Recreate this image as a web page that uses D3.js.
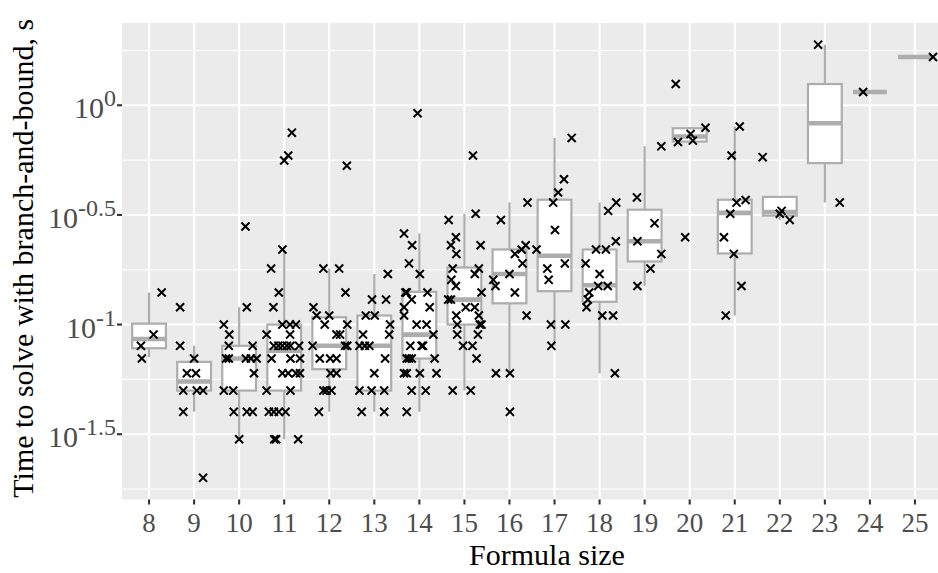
<!DOCTYPE html>
<html><head><meta charset="utf-8">
<script src="https://cdn.jsdelivr.net/npm/d3@7"></script>
<style>body{margin:0;background:#fff}svg{display:block}</style>
</head><body>
<svg id="chart" width="938" height="573"></svg>
<script>
// ---- data (times in seconds) ----
const formulaSizes = [8,9,10,11,12,13,14,15,16,17,18,19,20,21,22,23,24,25];
const boxQ1      = [0.078,0.050,0.050,0.050,0.0626,0.050,0.070,0.100,0.125,0.142,0.127,0.194,0.683,0.211,0.314,0.545,1.15,1.66];
const boxMedian  = [0.086,0.055,0.070,0.076,0.080,0.080,0.090,0.130,0.170,0.206,0.151,0.240,0.720,0.323,0.326,0.828,1.15,1.66];
const boxQ3      = [0.101,0.0676,0.080,0.100,0.108,0.110,0.141,0.182,0.220,0.371,0.220,0.334,0.786,0.371,0.382,1.25,1.15,1.66];
const whiskerLow = [0.071,0.040,0.030,0.030,0.040,0.040,0.040,0.050,0.060,0.080,0.060,0.150,0.680,0.110,0.300,0.360,1.15,1.66];
const whiskerHigh= [0.140,0.080,0.120,0.220,0.180,0.170,0.260,0.320,0.360,0.710,0.360,0.650,0.790,0.800,0.382,1.89,1.15,1.66];

// measured solve times per formula size (same order as formulaSizes)
const pointTimes = [
  [0.14,0.09,0.08,0.07],
  [0.12,0.08,0.07,0.06,0.06,0.05,0.05,0.05,0.04,0.02],
  [0.28,0.12,0.10,0.09,0.08,0.08,0.07,0.07,0.07,0.07,0.07,0.06,0.05,0.05,0.04,0.04,0.04,0.03],
  [0.75,0.59,0.56,0.22,0.18,0.14,0.12,0.09,0.10,0.10,0.10,0.09,0.08,0.08,0.08,0.08,0.08,0.08,0.07,0.07,0.07,0.06,0.06,0.06,0.06,0.05,0.05,0.04,0.04,0.04,0.04,0.03,0.03,0.03],
  [0.53,0.18,0.18,0.14,0.12,0.11,0.11,0.10,0.10,0.09,0.09,0.08,0.08,0.08,0.07,0.07,0.07,0.06,0.06,0.05,0.05,0.05,0.04],
  [0.17,0.13,0.13,0.11,0.11,0.10,0.09,0.09,0.08,0.08,0.08,0.07,0.06,0.05,0.05,0.05,0.04,0.04],
  [0.92,0.26,0.23,0.19,0.17,0.14,0.14,0.14,0.13,0.12,0.12,0.11,0.10,0.10,0.09,0.08,0.08,0.08,0.07,0.07,0.07,0.07,0.06,0.06,0.06,0.06,0.05,0.05,0.04],
  [0.59,0.32,0.30,0.25,0.23,0.23,0.21,0.18,0.18,0.17,0.16,0.15,0.14,0.13,0.13,0.12,0.12,0.11,0.11,0.10,0.10,0.10,0.09,0.09,0.08,0.08,0.07,0.05,0.05],
  [0.36,0.30,0.23,0.22,0.21,0.19,0.17,0.16,0.15,0.14,0.11,0.06,0.06,0.04],
  [0.71,0.46,0.40,0.36,0.27,0.22,0.19,0.18,0.16,0.10,0.10,0.08],
  [0.36,0.33,0.24,0.22,0.22,0.19,0.17,0.15,0.15,0.14,0.13,0.12,0.11,0.11,0.06],
  [0.65,0.38,0.29,0.24,0.21,0.18,0.15],
  [1.25,0.79,0.74,0.69,0.68,0.25],
  [0.80,0.59,0.37,0.36,0.32,0.25,0.21,0.15,0.11],
  [0.58,0.33,0.32,0.30],
  [1.89,0.36],
  [1.15],
  [1.66]
];
// horizontal jitter of each point, in formula-size units
const pointJitter = [
  [0.28,0.10,-0.18,-0.16],
  [-0.31,-0.31,0,-0.16,0.04,-0.24,0.06,0.20,-0.24,0.20],
  [0.14,0.17,-0.34,-0.22,-0.23,0.30,-0.29,-0.23,0.15,0.26,0.39,0.33,-0.34,-0.13,-0.12,0.17,0.30,0],
  [0.17,0.09,0,-0.04,-0.29,-0.12,-0.24,-0.39,-0.04,0.13,0.26,0.13,-0.23,-0.13,-0.04,0.06,0.14,0.33,-0.28,0.14,0.35,-0.04,0.09,0.26,0.35,-0.39,0.14,-0.34,-0.23,-0.12,0.03,-0.22,-0.18,0.31],
  [0.39,-0.13,0.22,0.36,-0.35,-0.28,0,0.40,-0.10,0.16,0.24,-0.37,0.35,0.40,-0.21,0.02,0.16,0.03,0.16,-0.13,-0.06,0.05,-0.23],
  [0.30,-0.05,0.26,-0.19,0.01,0.35,-0.25,0.33,-0.33,-0.21,-0.11,0.24,0,-0.33,-0.06,0.22,-0.28,0.22],
  [-0.04,-0.34,-0.16,-0.23,0.01,-0.31,-0.28,0.18,-0.17,0.23,-0.34,-0.34,-0.06,0.16,0.31,-0.20,0.05,0.08,-0.28,-0.23,-0.17,0.34,-0.34,-0.28,0.01,0.38,-0.17,0.14,-0.28],
  [0.19,0.25,-0.35,-0.19,-0.30,0.36,-0.18,-0.26,0.32,0.23,-0.29,-0.19,0.38,-0.36,-0.30,0.03,0.23,-0.18,0.32,-0.16,0.34,0.38,-0.16,0.30,-0.03,0.18,0.27,-0.26,0.14],
  [0.40,-0.19,0.36,0.27,0.12,0.29,0,-0.36,-0.31,0.12,0.38,-0.30,0.01,0.01],
  [0.38,0.21,0.08,-0.03,0.01,-0.40,0.23,-0.16,-0.13,-0.08,0.24,-0.07],
  [0.37,0.19,0.36,-0.08,0.14,-0.31,0,-0.03,0.18,-0.23,-0.26,-0.29,0.06,0.30,0.34],
  [0.37,-0.17,0.22,-0.16,0.37,0.13,-0.16],
  [-0.31,0.35,0.02,0.07,-0.26,-0.10],
  [0.11,-0.07,0.24,0.04,-0.10,-0.24,-0.02,0.15,-0.20],
  [-0.38,0.04,0,0.22],
  [-0.15,0.33],
  [-0.15],
  [0.40]
];
const yTickExponents = ["0","-0.5","-1","-1.5"];
const xTitle = "Formula size";
const yTitle = "Time to solve with branch-and-bound, s";

// ---- layout ----
const svg = d3.select("#chart");
const panel = {left:122, top:23, right:942, bottom:499.5};
const FONT = "'Liberation Serif', 'Times New Roman', serif";
const GRID_BG = "#EBEBEB", BOX_COL = "#ADADAD";

const x = d3.scaleLinear()
  .domain([formulaSizes[0]-0.6, formulaSizes[formulaSizes.length-1]+0.6])
  .range([panel.left, panel.right]);

const allLog = pointTimes.flat().map(Math.log10);
const lmin = d3.min(allLog), lmax = d3.max(allLog), pad = (lmax-lmin)*0.05;
const y = d3.scaleLog()
  .domain([Math.pow(10, lmin-pad), Math.pow(10, lmax+pad)])
  .range([panel.bottom, panel.top]);

svg.append("defs").append("clipPath").attr("id","clip")
  .append("rect").attr("x",panel.left).attr("y",panel.top)
  .attr("width",panel.right-panel.left).attr("height",panel.bottom-panel.top);

svg.append("rect").attr("x",panel.left).attr("y",panel.top)
  .attr("width",panel.right-panel.left).attr("height",panel.bottom-panel.top)
  .attr("fill",GRID_BG);

const g = svg.append("g").attr("clip-path","url(#clip)");

// grid
const majorVals = yTickExponents.map(e => Math.pow(10, +e));
const minorVals = [0.25,-0.25,-0.75,-1.25,-1.75].map(e => Math.pow(10, e));
g.selectAll(".gminor").data(minorVals).join("line")
  .attr("x1",panel.left).attr("x2",panel.right)
  .attr("y1",d=>y(d)).attr("y2",d=>y(d))
  .attr("stroke","#fff").attr("stroke-width",1.1);
g.selectAll(".gmajor").data(majorVals).join("line")
  .attr("x1",panel.left).attr("x2",panel.right)
  .attr("y1",d=>y(d)).attr("y2",d=>y(d))
  .attr("stroke","#fff").attr("stroke-width",2.1);
g.selectAll(".gx").data(formulaSizes).join("line")
  .attr("x1",d=>x(d)).attr("x2",d=>x(d))
  .attr("y1",panel.top).attr("y2",panel.bottom)
  .attr("stroke","#fff").attr("stroke-width",2.1);

// boxes
const half = 0.375;
const boxes = formulaSizes.map((s,i)=>({s, q1:boxQ1[i], med:boxMedian[i], q3:boxQ3[i], lo:whiskerLow[i], hi:whiskerHigh[i]}));
const bg = g.append("g");
bg.selectAll(".wh").data(boxes).join("line")
  .attr("x1",d=>x(d.s)).attr("x2",d=>x(d.s))
  .attr("y1",d=>y(d.hi)).attr("y2",d=>y(d.q3))
  .attr("stroke",BOX_COL).attr("stroke-width",2.2);
bg.selectAll(".wl").data(boxes).join("line")
  .attr("x1",d=>x(d.s)).attr("x2",d=>x(d.s))
  .attr("y1",d=>y(d.q1)).attr("y2",d=>y(d.lo))
  .attr("stroke",BOX_COL).attr("stroke-width",2.2);
bg.selectAll(".bx").data(boxes).join("rect")
  .attr("x",d=>x(d.s-half)).attr("width",d=>x(d.s+half)-x(d.s-half))
  .attr("y",d=>y(d.q3)).attr("height",d=>y(d.q1)-y(d.q3))
  .attr("fill","#fff").attr("stroke",BOX_COL).attr("stroke-width",2.2);
bg.selectAll(".md").data(boxes).join("line")
  .attr("x1",d=>x(d.s-half)).attr("x2",d=>x(d.s+half))
  .attr("y1",d=>y(d.med)).attr("y2",d=>y(d.med))
  .attr("stroke",BOX_COL).attr("stroke-width",4.6);

// points
const pts = [];
formulaSizes.forEach((s,i)=>pointTimes[i].forEach((t,j)=>pts.push({s, t, jx:pointJitter[i][j]})));
const cross = d3.symbol().type(d3.symbolTimes).size(44);
g.append("g").selectAll("path").data(pts).join("path")
  .attr("d",cross)
  .attr("transform",d=>`translate(${x(d.s+d.jx)},${y(d.t)})`)
  .attr("fill","none").attr("stroke","#000").attr("stroke-width",2);

// axes ticks
const ax = svg.append("g");
ax.selectAll(".xt").data(formulaSizes).join("line")
  .attr("x1",d=>x(d)).attr("x2",d=>x(d))
  .attr("y1",panel.bottom).attr("y2",panel.bottom+5)
  .attr("stroke","#333").attr("stroke-width",2.1);
ax.selectAll(".xl").data(formulaSizes).join("text")
  .attr("x",d=>x(d)).attr("y",panel.bottom+32)
  .attr("text-anchor","middle").attr("font-family",FONT).attr("font-size",27)
  .attr("fill","#4D4D4D").text(d=>d);

ax.selectAll(".yt").data(majorVals).join("line")
  .attr("x1",panel.left-5).attr("x2",panel.left)
  .attr("y1",d=>y(d)).attr("y2",d=>y(d))
  .attr("stroke","#333").attr("stroke-width",2.1);
const yl = ax.selectAll(".yl").data(yTickExponents).join("text")
  .attr("x",panel.left-6).attr("y",d=>y(Math.pow(10,+d))+13)
  .attr("text-anchor","end").attr("font-family",FONT).attr("font-size",30)
  .attr("fill","#4D4D4D");
yl.append("tspan").text("10");
yl.append("tspan").attr("font-size",24).attr("dy",-12).text(d=>d);

// titles
svg.append("text").attr("x",547).attr("y",565)
  .attr("text-anchor","middle").attr("font-family",FONT).attr("font-size",30)
  .attr("fill","#000").text(xTitle);
svg.append("text").attr("transform",`translate(33,${(panel.top+panel.bottom)/2 - 3}) rotate(-90)`)
  .attr("text-anchor","middle").attr("font-family",FONT).attr("font-size",30)
  .attr("fill","#000").text(yTitle);
</script>
</body></html>
